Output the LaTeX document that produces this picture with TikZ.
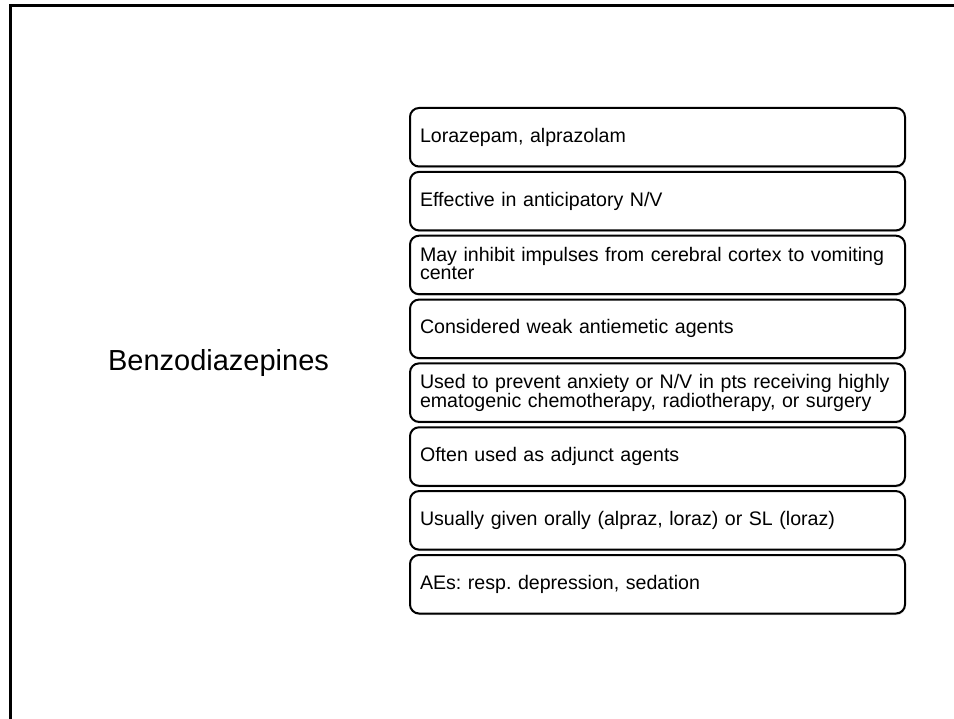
\documentclass[tikz,border=0pt]{standalone}
\usepackage{fontspec}
\setmainfont{Liberation Sans}
\usetikzlibrary{shadows}
\frenchspacing
\begin{document}
\begin{tikzpicture}[x=1pt,y=-1pt,
  itembox/.style={draw=black, line width=2pt, rounded corners=9pt, fill=white,
    drop shadow={shadow xshift=0.6pt, shadow yshift=-1.6pt, opacity=0.35, fill=gray},
    anchor=north west, inner xsep=10pt, inner ysep=2pt,
    text width=475pt, minimum height=58.5pt, align=left,
    font=\fontsize{19.6}{18}\selectfont},
  heading/.style={font=\fontsize{29}{33}\selectfont, anchor=center},
  frame/.style={line width=3pt, draw=black}]
  \useasboundingbox (0,0) rectangle (954,719);
  % slide frame: top and left edges
  \coordinate (fl) at (10.5,719);
  \coordinate (fc) at (10.5,6);
  \coordinate (fr) at (954,6);
  \draw[frame] (fl) -- (fc) -- (fr);
  % title on the left
  \node[heading] (title) at (218.5,363) {Benzodiazepines};
  % stacked list of facts
  \node[itembox] (b1) at (409,107.0) {Lorazepam, alprazolam};
  \node[itembox] (b2) at (409,170.9) {Effective in anticipatory N/V};
  \node[itembox] (b3) at (409,234.7) {May inhibit impulses from cerebral cortex to vomiting\\center\vphantom{y}\\[-4pt]};
  \node[itembox] (b4) at (409,298.6) {Considered weak antiemetic agents};
  \node[itembox] (b5) at (409,362.4) {Used to prevent anxiety or N/V in pts receiving highly\\ematogenic chemotherapy, radiotherapy, or surgery\\[-4pt]};
  \node[itembox] (b6) at (409,426.3) {Often used as adjunct agents};
  \node[itembox] (b7) at (409,490.1) {Usually given orally (alpraz, loraz) or SL (loraz)};
  \node[itembox] (b8) at (409,554.0) {AEs: resp. depression, sedation};
\end{tikzpicture}
\end{document}
